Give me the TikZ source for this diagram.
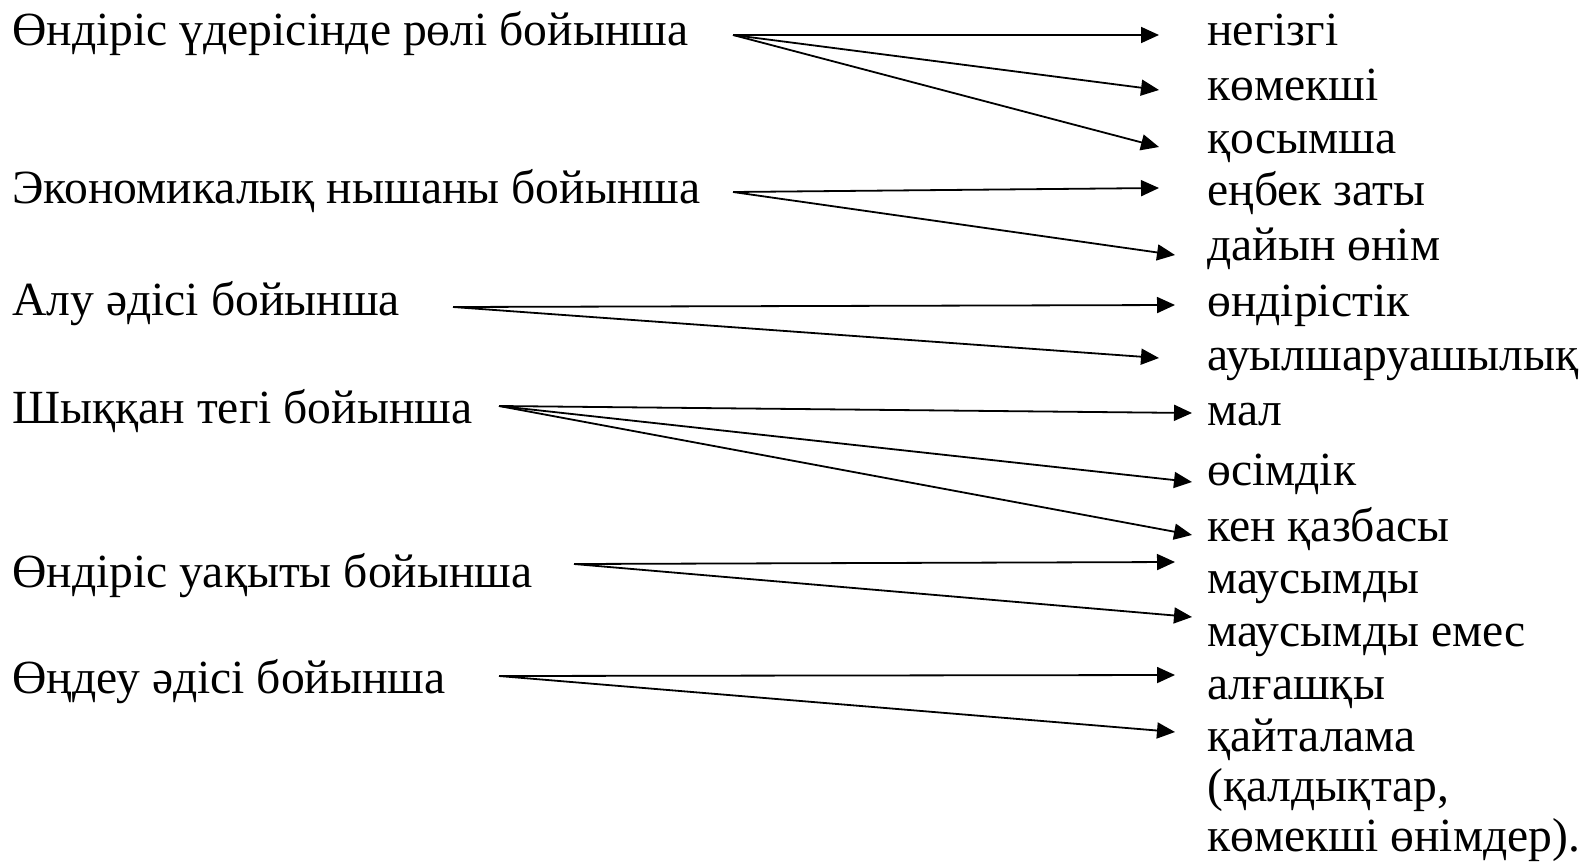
\documentclass[tikz,border=0pt]{standalone}
\usepackage{fontspec}
\setmainfont{Liberation Serif}
\usetikzlibrary{arrows.meta}

\begin{document}
\begin{tikzpicture}[x=0.5pt, y=-0.5pt,
    lbl/.style={anchor=base west, inner sep=0pt, align=left,
                font=\fontsize{23.8}{25}\selectfont},
    arr/.style={line width=0.9pt, -{Triangle[length=9pt,width=8pt]}}]
  \useasboundingbox (0,0) rectangle (1585,862);

  % criteria
  \node[lbl] (rol)   at (12,45)  {Өндіріс үдерісінде рөлі бойынша};
  \node[lbl] (ekon)  at (12,203) {Экономикалық нышаны бойынша};
  \node[lbl] (alu)   at (12,315) {Алу әдісі бойынша};
  \node[lbl] (shyq)  at (12,423) {Шыққан тегі бойынша};
  \node[lbl] (uaq)   at (12,587) {Өндіріс уақыты бойынша};
  \node[lbl] (ondeu) at (12,693) {Өңдеу әдісі бойынша};

  % kinds (base of the last node is its last line)
  \node[lbl] (negizgi)    at (1207,45)  {негізгі};
  \node[lbl] (komekshi)   at (1207,100) {көмекші};
  \node[lbl] (qosymsha)   at (1207,153) {қосымша};
  \node[lbl] (enbek)      at (1207,205) {еңбек заты};
  \node[lbl] (dayyn)      at (1207,260) {дайын өнім};
  \node[lbl] (ondiristik) at (1207,316) {өндірістік};
  \node[lbl] (auyl)       at (1207,370) {ауылшаруашылық};
  \node[lbl] (mal)        at (1207,425) {мал};
  \node[lbl] (osimdik)    at (1207,485) {өсімдік};
  \node[lbl] (ken)        at (1207,541) {кен қазбасы};
  \node[lbl] (mausymdy)   at (1207,593) {маусымды};
  \node[lbl] (emes)       at (1207,646) {маусымды емес};
  \node[lbl] (algashqy)   at (1207,699) {алғашқы};
  \node[lbl] (qaytalama)  at (1207,851) {қайталама\\(қалдықтар,\\көмекші өнімдер).};

  % arrow ends
  \coordinate (rol-out)   at (733,35);
  \coordinate (ekon-out)  at (733,192);
  \coordinate (alu-out)   at (453,307);
  \coordinate (shyq-out)  at (499,406);
  \coordinate (uaq-out)   at (574,564);
  \coordinate (ondeu-out) at (499,676);

  \coordinate (negizgi-in)    at (1159,35);
  \coordinate (komekshi-in)   at (1159,90);
  \coordinate (qosymsha-in)   at (1159,147);
  \coordinate (enbek-in)      at (1159,188);
  \coordinate (dayyn-in)      at (1175,255);
  \coordinate (ondiristik-in) at (1175,305);
  \coordinate (auyl-in)       at (1159,358);
  \coordinate (mal-in)        at (1192,413);
  \coordinate (osimdik-in)    at (1192,482);
  \coordinate (ken-in)        at (1192,535);
  \coordinate (mausymdy-in)   at (1175,562);
  \coordinate (emes-in)       at (1192,617);
  \coordinate (algashqy-in)   at (1175,675);
  \coordinate (qaytalama-in)  at (1175,732);

  \draw[arr] (rol-out) -- (negizgi-in);
  \draw[arr] (rol-out) -- (komekshi-in);
  \draw[arr] (rol-out) -- (qosymsha-in);
  \draw[arr] (ekon-out) -- (enbek-in);
  \draw[arr] (ekon-out) -- (dayyn-in);
  \draw[arr] (alu-out) -- (ondiristik-in);
  \draw[arr] (alu-out) -- (auyl-in);
  \draw[arr] (shyq-out) -- (mal-in);
  \draw[arr] (shyq-out) -- (osimdik-in);
  \draw[arr] (shyq-out) -- (ken-in);
  \draw[arr] (uaq-out) -- (mausymdy-in);
  \draw[arr] (uaq-out) -- (emes-in);
  \draw[arr] (ondeu-out) -- (algashqy-in);
  \draw[arr] (ondeu-out) -- (qaytalama-in);
\end{tikzpicture}
\end{document}
